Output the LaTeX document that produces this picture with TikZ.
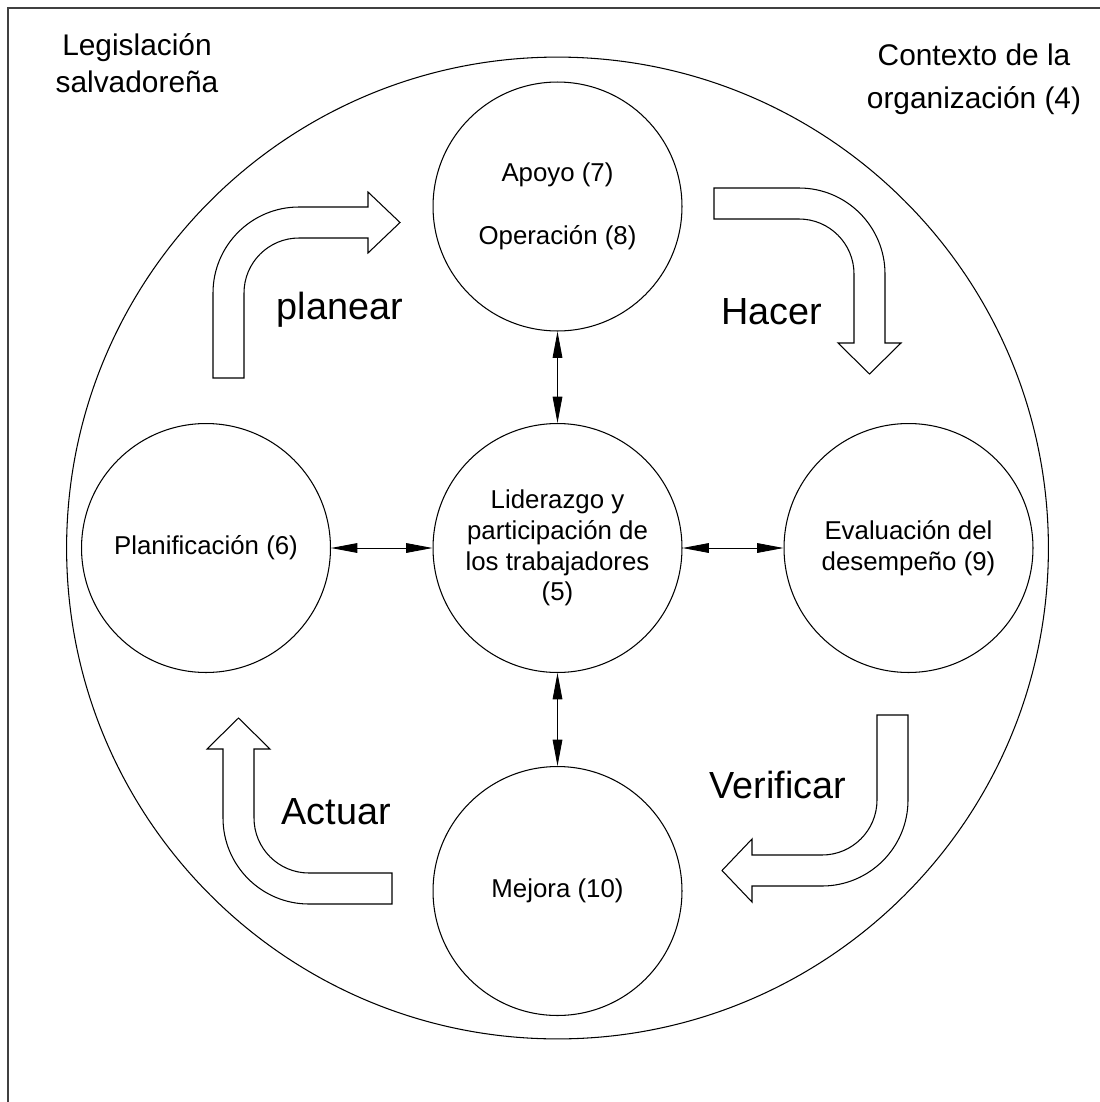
\documentclass[tikz,border=0pt]{standalone}
\usepackage{fontspec}
\setmainfont{Liberation Sans}
\usetikzlibrary{arrows.meta}

\begin{document}
\begin{tikzpicture}[
    x=0.02cm, y=-0.02cm,
    fase/.style={circle, draw, line width=0.6pt, minimum size=4.98cm, inner sep=0pt,
                 align=center, font=\fontsize{14.7}{17.5}\selectfont},
    contexto/.style={circle, draw, line width=0.6pt, minimum size=19.64cm, inner sep=0pt},
    biarrow/.style={{Triangle[length=15pt,width=5.5pt]}-{Triangle[length=15pt,width=5.5pt]},
                    line width=0.5pt},
    flecha/.style={draw, fill=white, line width=0.6pt},
    ciclo/.style={font=\fontsize{21.5}{26}\selectfont},
    marco/.style={align=center, font=\fontsize{17}{21}\selectfont},
  ]
  \useasboundingbox (0,0) rectangle (1099,1102);

  % Rahmen (nur oben und links sichtbar)
  \draw[line width=0.8pt, black!75] (8,1110) -- (8,8) -- (1110,8);

  % Kontext der Organisation
  \node[contexto] (ctx) at (557.5,548) {};

  % Phasen
  \node[fase] (apoyo)  at (557.5,206.5) {Apoyo (7)\\[18pt]Operación (8)};
  \node[fase] (lider)  at (557.5,548) {Liderazgo y\\participación de\\los trabajadores\\(5)};
  \node[fase] (plan)   at (206,548) {Planificación (6)};
  \node[fase] (eval)   at (908.5,548) {Evaluación del\\desempeño (9)};
  \node[fase] (mejora) at (557.5,891) {Mejora (10)};

  % Doppelpfeile zur Mitte
  \draw[biarrow] (apoyo) -- (lider);
  \draw[biarrow] (lider) -- (mejora);
  \draw[biarrow] (plan) -- (lider);
  \draw[biarrow] (lider) -- (eval);

  % gebogene Blockpfeile
  \draw[flecha] (213,378) -- (213,293) arc[start angle=180, end angle=270, radius=86]
    -- (368,207) -- (368,192) -- (400,222.5) -- (368,253) -- (368,238)
    -- (299,238) arc[start angle=270, end angle=180, radius=55] -- (244,378) -- cycle;
  \draw[flecha] (714,188) -- (799,188) arc[start angle=270, end angle=360, radius=86]
    -- (885,343) -- (901,343) -- (869.5,374) -- (838,343) -- (854,343)
    -- (854,274) arc[start angle=0, end angle=-90, radius=55] -- (714,219) -- cycle;
  \draw[flecha] (877,715) -- (908,715) -- (908,800) arc[start angle=0, end angle=90, radius=86]
    -- (752,886) -- (752,902) -- (722,870.5) -- (752,839) -- (752,855)
    -- (822,855) arc[start angle=90, end angle=0, radius=55] -- cycle;
  \draw[flecha] (392,904) -- (309,904) arc[start angle=90, end angle=180, radius=86]
    -- (223,749) -- (207,749) -- (238.5,718) -- (270,749) -- (254,749)
    -- (254,818) arc[start angle=180, end angle=90, radius=55] -- (392,873) -- cycle;

  % Beschriftung des Zyklus
  \node[ciclo] (planear)   at (340,310) {planear};
  \node[ciclo] (hacer)     at (772,312) {Hacer};
  \node[ciclo] (verificar) at (778,785) {Verificar};
  \node[ciclo] (actuar)    at (336,812) {Actuar};

  % Ecken
  \node[marco] (legis) at (137,63) {Legislación\\salvadoreña};
  \node[marco, font=\fontsize{17}{24.5}\selectfont] (orga) at (974,79) {Contexto de la\\organización (4)};

\end{tikzpicture}
\end{document}
